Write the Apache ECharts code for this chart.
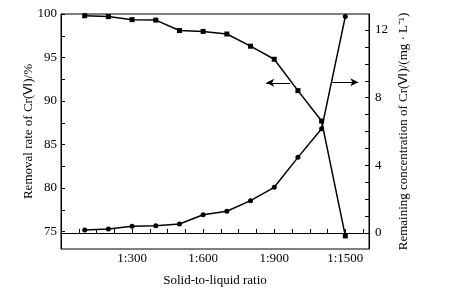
<!DOCTYPE html>
<html>
<head>
<meta charset="utf-8">
<script src="https://cdn.jsdelivr.net/npm/echarts@6/dist/echarts.min.js"></script>
<style>html,body{margin:0;padding:0;background:#fff;}#c{width:450px;height:293px;}</style>
</head>
<body>
<div id="c"></div>
<script>
// Data
var ratios = [100, 200, 300, 400, 500, 600, 700, 800, 900, 1000, 1100, 1200];
var removalRate = [99.8, 99.7, 99.35, 99.3, 98.1, 98.0, 97.7, 96.3, 94.8, 91.2, 87.7, 74.5];
var remainingConc = [0.18, 0.24, 0.4, 0.43, 0.53, 1.08, 1.28, 1.91, 2.7, 4.47, 6.16, 12.8];
var xLabelPos = [300, 600, 900, 1200];
var xLabelText = ['1:300', '1:600', '1:900', '1:1500'];
var xTickStep = 75;
var leftLabels = [75, 80, 85, 90, 95, 100];
var leftTicks = [75, 77.5, 80, 82.5, 85, 87.5, 90, 92.5, 95, 97.5, 100];
var rightLabels = [0, 4, 8, 12];
var rightTicks = [0, 1, 2, 3, 4, 5, 6, 7, 8, 9, 10, 11, 12];

var FONT = 'Liberation Serif';
var chart = echarts.init(document.getElementById('c'), null, {renderer: 'canvas'});
function pairs(xs, ys) { return xs.map(function (x, i) { return [x, ys[i]]; }); }

chart.setOption({
  animation: false,
  backgroundColor: '#fff',
  textStyle: {fontFamily: FONT, color: '#000'},
  grid: {left: 61, right: 81, top: 14, bottom: 44, show: true, borderColor: '#000', borderWidth: 1, backgroundColor: 'transparent'},
  xAxis: {
    type: 'value', min: 0, max: 1300, interval: xTickStep,
    name: 'Solid-to-liquid ratio', nameLocation: 'middle', nameGap: 25, nameMoveOverlap: false,
    nameTextStyle: {fontFamily: FONT, fontSize: 13, color: '#000'},
    axisLine: {show: true, lineStyle: {color: '#000', width: 1}},
    axisTick: {show: true, inside: true, length: 4, lineStyle: {color: '#000'}},
    axisLabel: {
      fontFamily: FONT, fontSize: 13, color: '#000', margin: 3,
      showMinLabel: true, showMaxLabel: true,
      formatter: function (v) { var i = xLabelPos.indexOf(v); return i >= 0 ? xLabelText[i] : ''; }
    },
    splitLine: {show: false}
  },
  yAxis: [
    {
      type: 'value', min: 73, max: 100, position: 'left',
      name: 'Removal rate of Cr(Ⅵ)/%', nameLocation: 'middle', nameGap: 26, nameRotate: 90, nameMoveOverlap: false,
      nameTextStyle: {fontFamily: FONT, fontSize: 13, color: '#000'},
      axisLine: {show: true, lineStyle: {color: '#000', width: 1}},
      axisTick: {show: true, inside: true, length: 4, customValues: leftTicks, lineStyle: {color: '#000'}},
      axisLabel: {fontFamily: FONT, fontSize: 13, color: '#000', margin: 4, customValues: leftLabels},
      splitLine: {show: false}
    },
    {
      type: 'value', min: -0.95, max: 12.95, position: 'right',
      name: 'Remaining concentration of Cr(Ⅵ)/(mg · L⁻¹)', nameLocation: 'middle', nameGap: 28, nameRotate: 90, nameMoveOverlap: false,
      nameTextStyle: {fontFamily: FONT, fontSize: 13, color: '#000'},
      axisLine: {show: true, lineStyle: {color: '#000', width: 1}},
      axisTick: {show: true, inside: true, length: 4, customValues: rightTicks, lineStyle: {color: '#000'}},
      axisLabel: {fontFamily: FONT, fontSize: 13, color: '#000', margin: 6, customValues: rightLabels},
      splitLine: {show: false}
    }
  ],
  series: [
    {
      type: 'line', yAxisIndex: 0, data: pairs(ratios, removalRate),
      symbol: 'rect', symbolSize: 5,
      lineStyle: {color: '#000', width: 1.5}, itemStyle: {color: '#000'},
      markLine: {
        silent: true, symbol: ['none', 'arrow'], symbolSize: [6, 8],
        label: {show: false},
        lineStyle: {color: '#000', width: 1, type: 'solid'},
        data: [[{coord: [967, 92.1]}, {coord: [866, 92.1]}]]
      }
    },
    {
      type: 'line', yAxisIndex: 1, data: pairs(ratios, remainingConc),
      symbol: 'circle', symbolSize: 5,
      lineStyle: {color: '#000', width: 1.5}, itemStyle: {color: '#000'},
      markLine: {
        silent: true, symbol: ['none', 'arrow'], symbolSize: [6, 8],
        label: {show: false},
        lineStyle: {color: '#000', width: 1, type: 'solid'},
        data: [[{coord: [1145, 8.92]}, {coord: [1255, 8.92]}]]
      }
    }
  ]
});
</script>
</body>
</html>
